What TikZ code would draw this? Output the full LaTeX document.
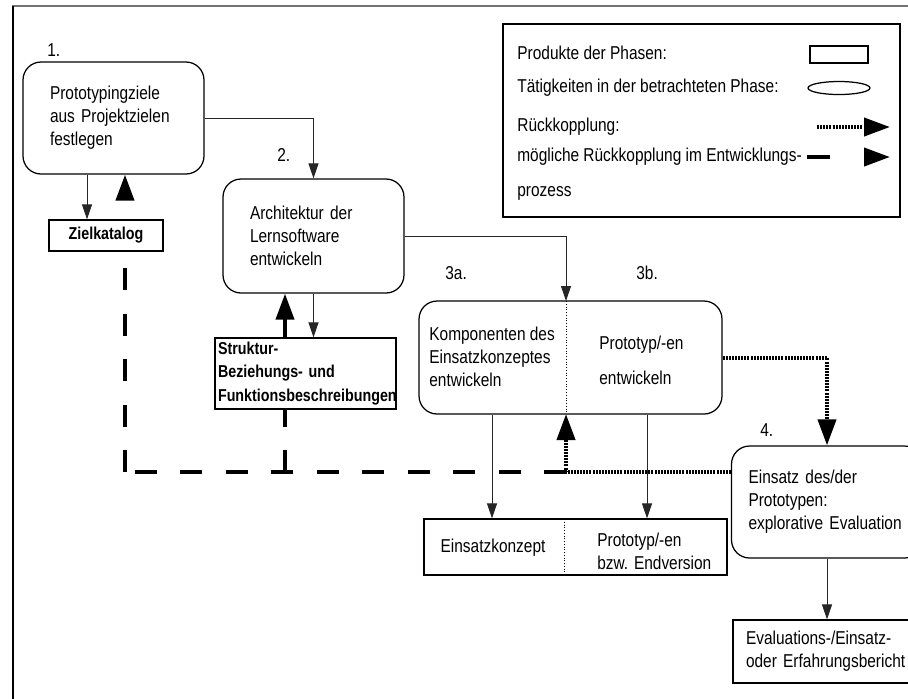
\documentclass[tikz,border=0pt]{standalone}
\usepackage{fontspec}
\setmainfont{Liberation Sans}[FakeStretch=0.83]
\usetikzlibrary{arrows.meta, positioning, shapes.geometric}

\newcommand{\phasefont}{\fontsize{10.6}{13.1}\selectfont}
\newcommand{\productfont}{\fontsize{9.8}{13.6}\selectfont\bfseries}

\tikzset{
	phasebox/.style={draw, rounded corners=0.36cm, align=left, inner ysep=0pt, line width=0.025cm, font=\phasefont}
}
\tikzset{
	productbox/.style={draw, rectangle, inner ysep=0pt, line width=0.025cm, font=\phasefont}
}
\tikzset{
	boxtext/.style={align=left, inner sep=0pt, font=\phasefont}
}
\tikzset{
	phasenr/.style={anchor=west, inner sep=0pt, font=\phasefont}
}
\tikzset{
	thinarrow/.style={-{Triangle[length=0.3cm, width=0.2cm]}, line width=0.02cm, black!85}
}
\tikzset{
	bigtip/.style={-{Triangle[length=0.52cm, width=0.36cm]}}
}
\tikzset{
	feedback/.style={bigtip, line width=0.08cm, dash pattern=on 0.04cm off 0.022cm}
}
\tikzset{
	possiblefeedback/.style={line width=0.08cm, dash pattern=on 0.44cm off 0.47cm}
}

\begin{document}
\begin{tikzpicture}[x=0.02cm, y=-0.02cm]
      \useasboundingbox (0,0) rectangle (908,698);

      % outer frame, cut at the right and bottom
      \draw[black!55, line width=0.03cm] (12,6) -- (912,6);
      \draw[line width=0.04cm] (13,6) -- (13,702);

      % legend
      \node[draw, line width=0.025cm, minimum width=7.94cm, minimum height=3.86cm] (legende) at (701.5,120.5) {};
      \foreach \t/\y [count=\i] in {Produkte der Phasen:/53, Tätigkeiten in der betrachteten Phase:/88,
          Rückkopplung:/127, mögliche Rückkopplung im Entwicklungs-/157, prozess/193} {
        \node[boxtext, anchor=west] (legtext\i) at (517,\y) {\t};
      }
      \node[draw, line width=0.025cm, minimum width=1.16cm, minimum height=0.34cm, inner sep=0pt] (legrect) at (839,54.5) {};
      \node[draw, ellipse, line width=0.025cm, minimum width=1.24cm, minimum height=0.26cm, inner sep=0pt] (legoval) at (839,88) {};
      \coordinate (legdotA) at (817,127);
      \coordinate (legdotB) at (890,127);
      \draw[feedback] (legdotA) -- (legdotB);
      \coordinate (legdashA) at (807,157);
      \coordinate (legdashB) at (890,157);
      \draw[possiblefeedback, bigtip, dash pattern=on 0.46cm off 1cm] (legdashA) -- (legdashB);

      % phases (activities)
      \node[phasenr] (nreins) at (47,50) {1.};
      \node[phasebox, text width=2.54cm, inner xsep=0.54cm, minimum height=2.24cm] (ziele) at (113.5,118)
        {Prototypingziele\\aus Projektzielen\\festlegen};
      \node[phasenr] (nrzwei) at (277,155) {2.};
      \node[phasebox, text width=2.54cm, inner xsep=0.54cm, minimum height=2.28cm] (architektur) at (313.5,236)
        {Architektur der\\Lernsoftware\\entwickeln};
      \node[phasenr] (nrdreia) at (445,273) {3a.};
      \node[phasenr] (nrdreib) at (636,273) {3b.};
      \node[phasebox, minimum width=6.06cm, minimum height=2.26cm] (entwicklung) at (570.5,357.5) {};
      \node[boxtext, anchor=west] (komptext) at (429,357) {Komponenten des\\Einsatzkonzeptes\\entwickeln};
      \node[boxtext, anchor=west] (prototext) at (599,360) {Prototyp/-en\\[0.24cm]entwickeln};
      \node[phasenr] (nrvier) at (760,430) {4.};
      \node[phasebox, text width=3.14cm, inner xsep=0.34cm, minimum height=2.24cm] (einsatz) at (827,502)
        {Einsatz des/der\\Prototypen:\\explorative Evaluation};

      % split line between 3a and 3b
      \coordinate (splittop) at (566,301);
      \coordinate (splitbot) at (566,414);
      \draw[densely dotted, line width=0.02cm] (splittop) -- (splitbot);

      % products of the phases
      \node[productbox, font=\productfont, minimum width=2.28cm, minimum height=0.62cm] (zielkatalog) at (106,235.5) {Zielkatalog};
      \node[productbox, font=\productfont, align=left, text width=3.5cm, inner xsep=0.06cm, minimum height=1.42cm] (struktur) at (305.5,373.5)
        {Struktur-\\Beziehungs- und\\Funktionsbeschreibungen};
      \node[productbox, minimum width=6.06cm, minimum height=1.12cm] (ergebnis) at (575.5,547) {};
      \node[boxtext] (konzepttext) at (493,548) {Einsatzkonzept};
      \node[boxtext, anchor=west] (endtext) at (597,551) {Prototyp/-en\\bzw. Endversion};
      \coordinate (ergtop) at (564,519);
      \coordinate (ergbot) at (564,575);
      \draw[densely dotted, line width=0.02cm] (ergtop) -- (ergbot);
      \node[productbox, align=left, text width=3.24cm, inner xsep=0.26cm, minimum height=1.26cm] (bericht) at (827,651.5)
        {Evaluations-/Einsatz-\\oder Erfahrungsbericht};

      % flow between phases
      \draw[thinarrow] (ziele.east) -| (architektur.north);
      \draw[thinarrow] (architektur.east) -| (splittop);
      \coordinate (zielin) at (87,220);
      \draw[thinarrow] (zielin |- ziele.south) -- (zielin |- zielkatalog.north);
      \draw[thinarrow] (architektur.south) -- (architektur.south |- struktur.north);
      \coordinate (konzeptin) at (492,519);
      \coordinate (protoin) at (647,519);
      \draw[thinarrow] (konzeptin |- entwicklung.south) -- (konzeptin |- ergebnis.north);
      \draw[thinarrow] (protoin |- entwicklung.south) -- (protoin |- ergebnis.north);
      \draw[thinarrow] (einsatz.south) -- (bericht.north);

      % feedback (dotted)
      \coordinate (fbcorner) at (566,472);
      \draw[feedback] (entwicklung.east) -| (einsatz.north);
      \draw[feedback] (einsatz.west |- fbcorner) -- (fbcorner) -- (splitbot);

      % possible feedback in the development process (dashed)
      \coordinate (zielcorner) at (125,472);
      \coordinate (strukcorner) at (285,472);
      \draw[possiblefeedback] (fbcorner) -- (zielcorner);
      \draw[possiblefeedback] (zielcorner) -- (zielcorner |- zielkatalog.south);
      \draw[possiblefeedback] (strukcorner) -- (strukcorner |- struktur.south);
      \draw[possiblefeedback, bigtip, dash phase=0.44cm] (zielcorner |- zielkatalog.north) -- (zielcorner |- ziele.south);
      \draw[possiblefeedback, bigtip] (strukcorner |- struktur.north) -- (strukcorner |- architektur.south);
\end{tikzpicture}
\end{document}
